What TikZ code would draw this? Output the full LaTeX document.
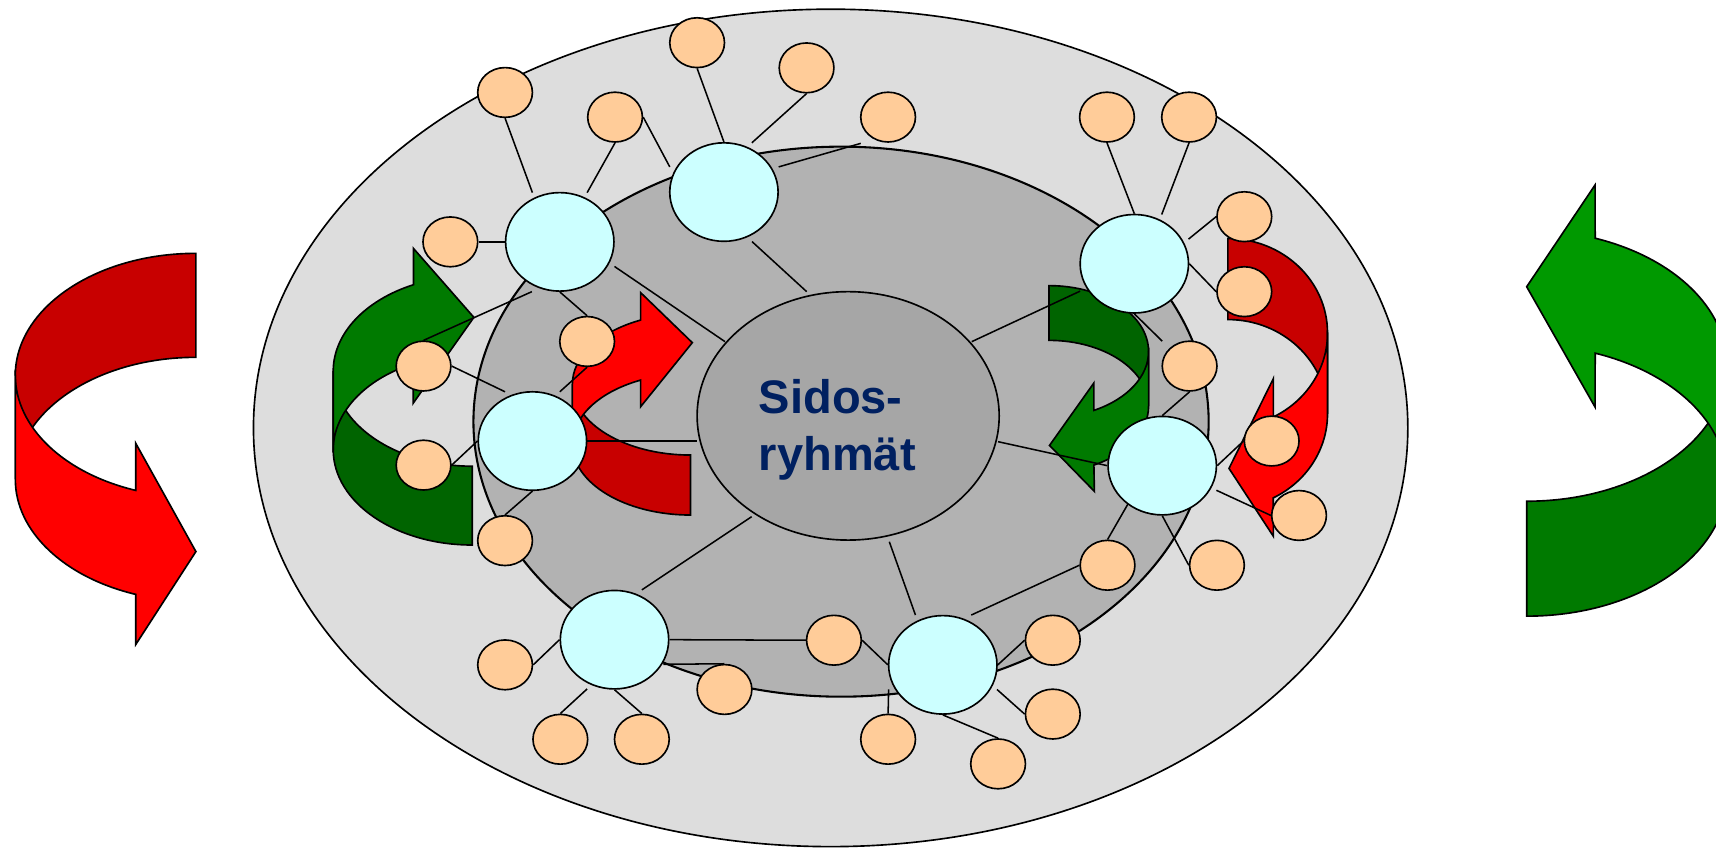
\documentclass[tikz,border=0pt]{standalone}
\usepackage{fontspec}
\newfontfamily\lsans{Liberation Sans}
\usetikzlibrary{shapes.geometric,calc}
\pgfdeclarelayer{background}
\pgfsetlayers{background,main}
\definecolor{outerg}{RGB}{221,221,221}
\definecolor{ringg}{RGB}{178,178,178}
\definecolor{coreg}{RGB}{166,166,166}
\definecolor{bluen}{RGB}{204,255,255}
\definecolor{orangen}{RGB}{255,204,153}
\definecolor{redA}{RGB}{255,0,0}
\definecolor{redB}{RGB}{200,0,0}
\definecolor{grnA}{RGB}{0,153,0}
\definecolor{grnB}{RGB}{0,122,0}
\definecolor{grnC}{RGB}{0,100,0}
\definecolor{navytxt}{RGB}{0,32,96}
\begin{document}
\begin{tikzpicture}[x=0.5pt,y=-0.5pt,
  bnode/.style={ellipse,draw,fill=bluen,line width=0.75pt,minimum width=49.5pt,minimum height=45pt,inner sep=0pt},
  onode/.style={ellipse,draw,fill=orangen,line width=0.75pt,minimum width=25pt,minimum height=22.75pt,inner sep=0pt},
  conn/.style={draw,line width=0.7pt},
  apart/.style={draw,line width=0.75pt,line join=miter},
  bgshape/.style={draw,line width=0.75pt}]
\useasboundingbox (0,0) rectangle (1568,776);
% centre
\node[ellipse,draw,fill=coreg,line width=0.75pt,minimum width=138pt,minimum height=113.5pt,inner sep=0pt] (C) at (775,380) {};
% blue nodes
\node[bnode] (B1) at (511.5,221) {};
\node[bnode] (B2) at (661.5,175.5) {};
\node[bnode] (B3) at (1036.5,241) {};
\node[bnode] (B4) at (486.5,403) {};
\node[bnode] (B5) at (1062,425.5) {};
\node[bnode] (B6) at (561.5,584.5) {};
\node[bnode] (B7) at (861.5,607.5) {};
% orange nodes
\node[onode] (o1) at (461.5,84.5) {};
\node[onode] (o2) at (637,39) {};
\node[onode] (o3) at (737,62) {};
\node[onode] (o4) at (562,107) {};
\node[onode] (o5) at (811.5,107) {};
\node[onode] (o6) at (1011.5,107) {};
\node[onode] (o7) at (1086.5,107) {};
\node[onode] (o8) at (411.5,221) {};
\node[onode] (o9) at (1137,198) {};
\node[onode] (o10) at (1137,266.5) {};
\node[onode] (o11) at (536.5,312) {};
\node[onode] (o12) at (387,334.5) {};
\node[onode] (o13) at (1087,334.5) {};
\node[onode] (o14) at (387,425) {};
\node[onode] (o15) at (1162,403) {};
\node[onode] (o16) at (1187,471) {};
\node[onode] (o17) at (461.5,494) {};
\node[onode] (o18) at (1012,516.5) {};
\node[onode] (o19) at (1112,516.5) {};
\node[onode] (o20) at (762,585) {};
\node[onode] (o21) at (962,585) {};
\node[onode] (o22) at (461.5,607.5) {};
\node[onode] (o23) at (662,630) {};
\node[onode] (o24) at (962,652.5) {};
\node[onode] (o25) at (512,675.5) {};
\node[onode] (o26) at (586.5,675.5) {};
\node[onode] (o27) at (811.5,675.5) {};
\node[onode] (o28) at (912,698) {};
% label (base anchor = baseline of the last line)
\node[anchor=base west,align=left,inner sep=0pt,text=navytxt,font=\lsans\bfseries\fontsize{21.5pt}{26pt}\selectfont] (T) at (693,429.5) {Sidos-\\ryhmät};

\begin{pgfonlayer}{background}
% background ellipses
\path[bgshape,fill=outerg] (759,391) ellipse [x radius=527.4,y radius=382.6];
\path[bgshape,fill=ringg,line width=0.95pt] (768.5,385.3) ellipse [x radius=335.9,y radius=251.3];
% big left arrow
\path[apart,fill=redB] (179,231.5) arc[start angle=270,end angle=180,x radius=165,y radius=111.5] -- (14,438) arc[start angle=180,end angle=270,x radius=165,y radius=111.5] -- cycle;
\path[apart,fill=redA] (14,343) -- (14,438) arc[start angle=180,end angle=109.47,x radius=165,y radius=111.5] -- (124,589) -- (179,504) -- (124,405) -- (124,448.1) arc[start angle=109.47,end angle=180,x radius=165,y radius=111.5] -- cycle;
% big right arrow
\path[apart,fill=grnB] (1395,563) arc[start angle=90,end angle=0,x radius=183,y radius=123.9] -- (1578,334.1) arc[start angle=0,end angle=90,x radius=183,y radius=123.9] -- cycle;
\path[apart,fill=grnA] (1578,439.1) -- (1578,334.1) arc[start angle=0,end angle=-70,x radius=183,y radius=123.9] -- (1457.5,169) -- (1395,262) -- (1457.5,372) -- (1457.6,322.7) arc[start angle=-70,end angle=0,x radius=183,y radius=123.9] -- cycle;
% inner left green arrow
\path[apart,fill=grnC] (431.5,498) arc[start angle=90,end angle=180,x radius=127,y radius=87] -- (304.5,339) arc[start angle=180,end angle=90,x radius=127,y radius=87] -- cycle;
\path[apart,fill=grnB] (304.5,411) -- (304.5,339) arc[start angle=180,end angle=245,x radius=127,y radius=87] -- (377.8,227) -- (433,290) -- (377.5,368.5) -- (377.8,332.2) arc[start angle=245,end angle=180,x radius=127,y radius=87] -- cycle;
% inner left red arrow
\path[apart,fill=redB] (631,470.6) arc[start angle=90,end angle=180,x radius=108,y radius=64.7] -- (523,351.1) arc[start angle=180,end angle=90,x radius=108,y radius=64.7] -- cycle;
\path[apart,fill=redA] (523,405.9) -- (523,351.1) arc[start angle=180,end angle=245,x radius=108,y radius=64.7] -- (585.4,267.4) -- (632.6,313.1) -- (585.4,371.6) -- (585.4,347.3) arc[start angle=245,end angle=180,x radius=108,y radius=64.7] -- cycle;
% inner right green arrow
\path[apart,fill=grnC] (958.5,261) arc[start angle=270,end angle=360,x radius=91,y radius=60.2] -- (1049.5,371.2) arc[start angle=0,end angle=-90,x radius=91,y radius=60.2] -- cycle;
\path[apart,fill=grnB] (1049.5,321.2) -- (1049.5,371.2) arc[start angle=0,end angle=63.2,x radius=91,y radius=60.2] -- (1000,449) -- (959,407) -- (999.5,350) -- (999.5,375) arc[start angle=63.2,end angle=0,x radius=91,y radius=60.2] -- cycle;
% inner right red arrow
\path[apart,fill=redB] (1122,218) arc[start angle=270,end angle=360,x radius=91,y radius=86.2] -- (1213,378.2) arc[start angle=0,end angle=-90,x radius=91,y radius=86.2] -- cycle;
\path[apart,fill=redA] (1213,304.2) -- (1213,378.2) arc[start angle=0,end angle=62.9,x radius=91,y radius=86.2] -- (1163.5,490) -- (1123,428) -- (1163.5,346) -- (1163.5,381) arc[start angle=62.9,end angle=0,x radius=91,y radius=86.2] -- cycle;
% connectors
\path[conn] (o1.south) -- ($(B1)+(-25,-45)$);
\path[conn] (o4.south) -- ($(B1)+(25,-45)$);
\path[conn] (o4.east) -- ($(B2)+(-49.5,-23)$);
\path[conn] (o2.south) -- (B2.north);
\path[conn] (o3.south) -- ($(B2)+(25.5,-45)$);
\path[conn] ($(o5)+(-25,24)$) -- ($(B2)+(50,-23)$);
\path[conn] (o8.east) -- (B1.west);
\path[conn] ($(B1)+(50,22.5)$) -- ($(C)+(-112.5,-67.8)$);
\path[conn] ($(B2)+(25.7,45.3)$) -- ($(C)+(-37.9,-113.5)$);
\path[conn] (B1.south) -- (o11.north);
\path[conn] (o12.north) -- ($(B1)+(-25.5,45.5)$);
\path[conn] (o12.east) -- ($(B4)+(-25,-45)$);
\path[conn] (o11.south) -- ($(B4)+(25,-45)$);
\path[conn] (o14.east) -- (B4.west);
\path[conn] (B4.east) -- ($(C)+(-138.4,23)$);
\path[conn] (B4.south) -- (o17.north);
\path[conn] ($(C)+(-88.2,92.1)$) -- ($(B6)+(25,-45.5)$);
\path[conn] (B6.east) -- (o20.west);
\path[conn] ($(B6)+(44.6,22.5)$) -- (o23.north);
\path[conn] (B6.west) -- (o22.east);
\path[conn] ($(B6)+(-25,45)$) -- (o25.north);
\path[conn] (B6.south) -- (o26.north);
\path[conn] ($(C)+(37.6,115)$) -- ($(B7)+(-25,-45.5)$);
\path[conn] (o20.east) -- (B7.west);
\path[conn] ($(B7)+(26,-45.5)$) -- (o18.west);
\path[conn] (B7.east) -- (o21.west);
\path[conn] ($(B7)+(49.5,22.5)$) -- (o24.west);
\path[conn] (B7.south) -- (o28.north);
\path[conn] ($(B7)+(-49.5,22.5)$) -- (o27.north);
\path[conn] ($(C)+(112.9,-67.8)$) -- ($(B3)+(-49.5,25)$);
\path[conn] (o6.south) -- (B3.north);
\path[conn] (o7.south) -- ($(B3)+(25,-45)$);
\path[conn] ($(B3)+(49.5,-22.5)$) -- (o9.west);
\path[conn] (B3.east) -- (o10.west);
\path[conn] (B3.south) -- ($(o13)+(-25,-22.75)$);
\path[conn] (o13.south) -- (B5.north);
\path[conn] ($(C)+(137,23.6)$) -- (B5.west);
\path[conn] (B5.east) -- (o15.west);
\path[conn] ($(B5)+(49.5,22.5)$) -- (o16.west);
\path[conn] ($(B5)+(-25,24)$) -- (o18.north);
\path[conn] (B5.south) -- (o19.west);
\end{pgfonlayer}
\end{tikzpicture}
\end{document}
